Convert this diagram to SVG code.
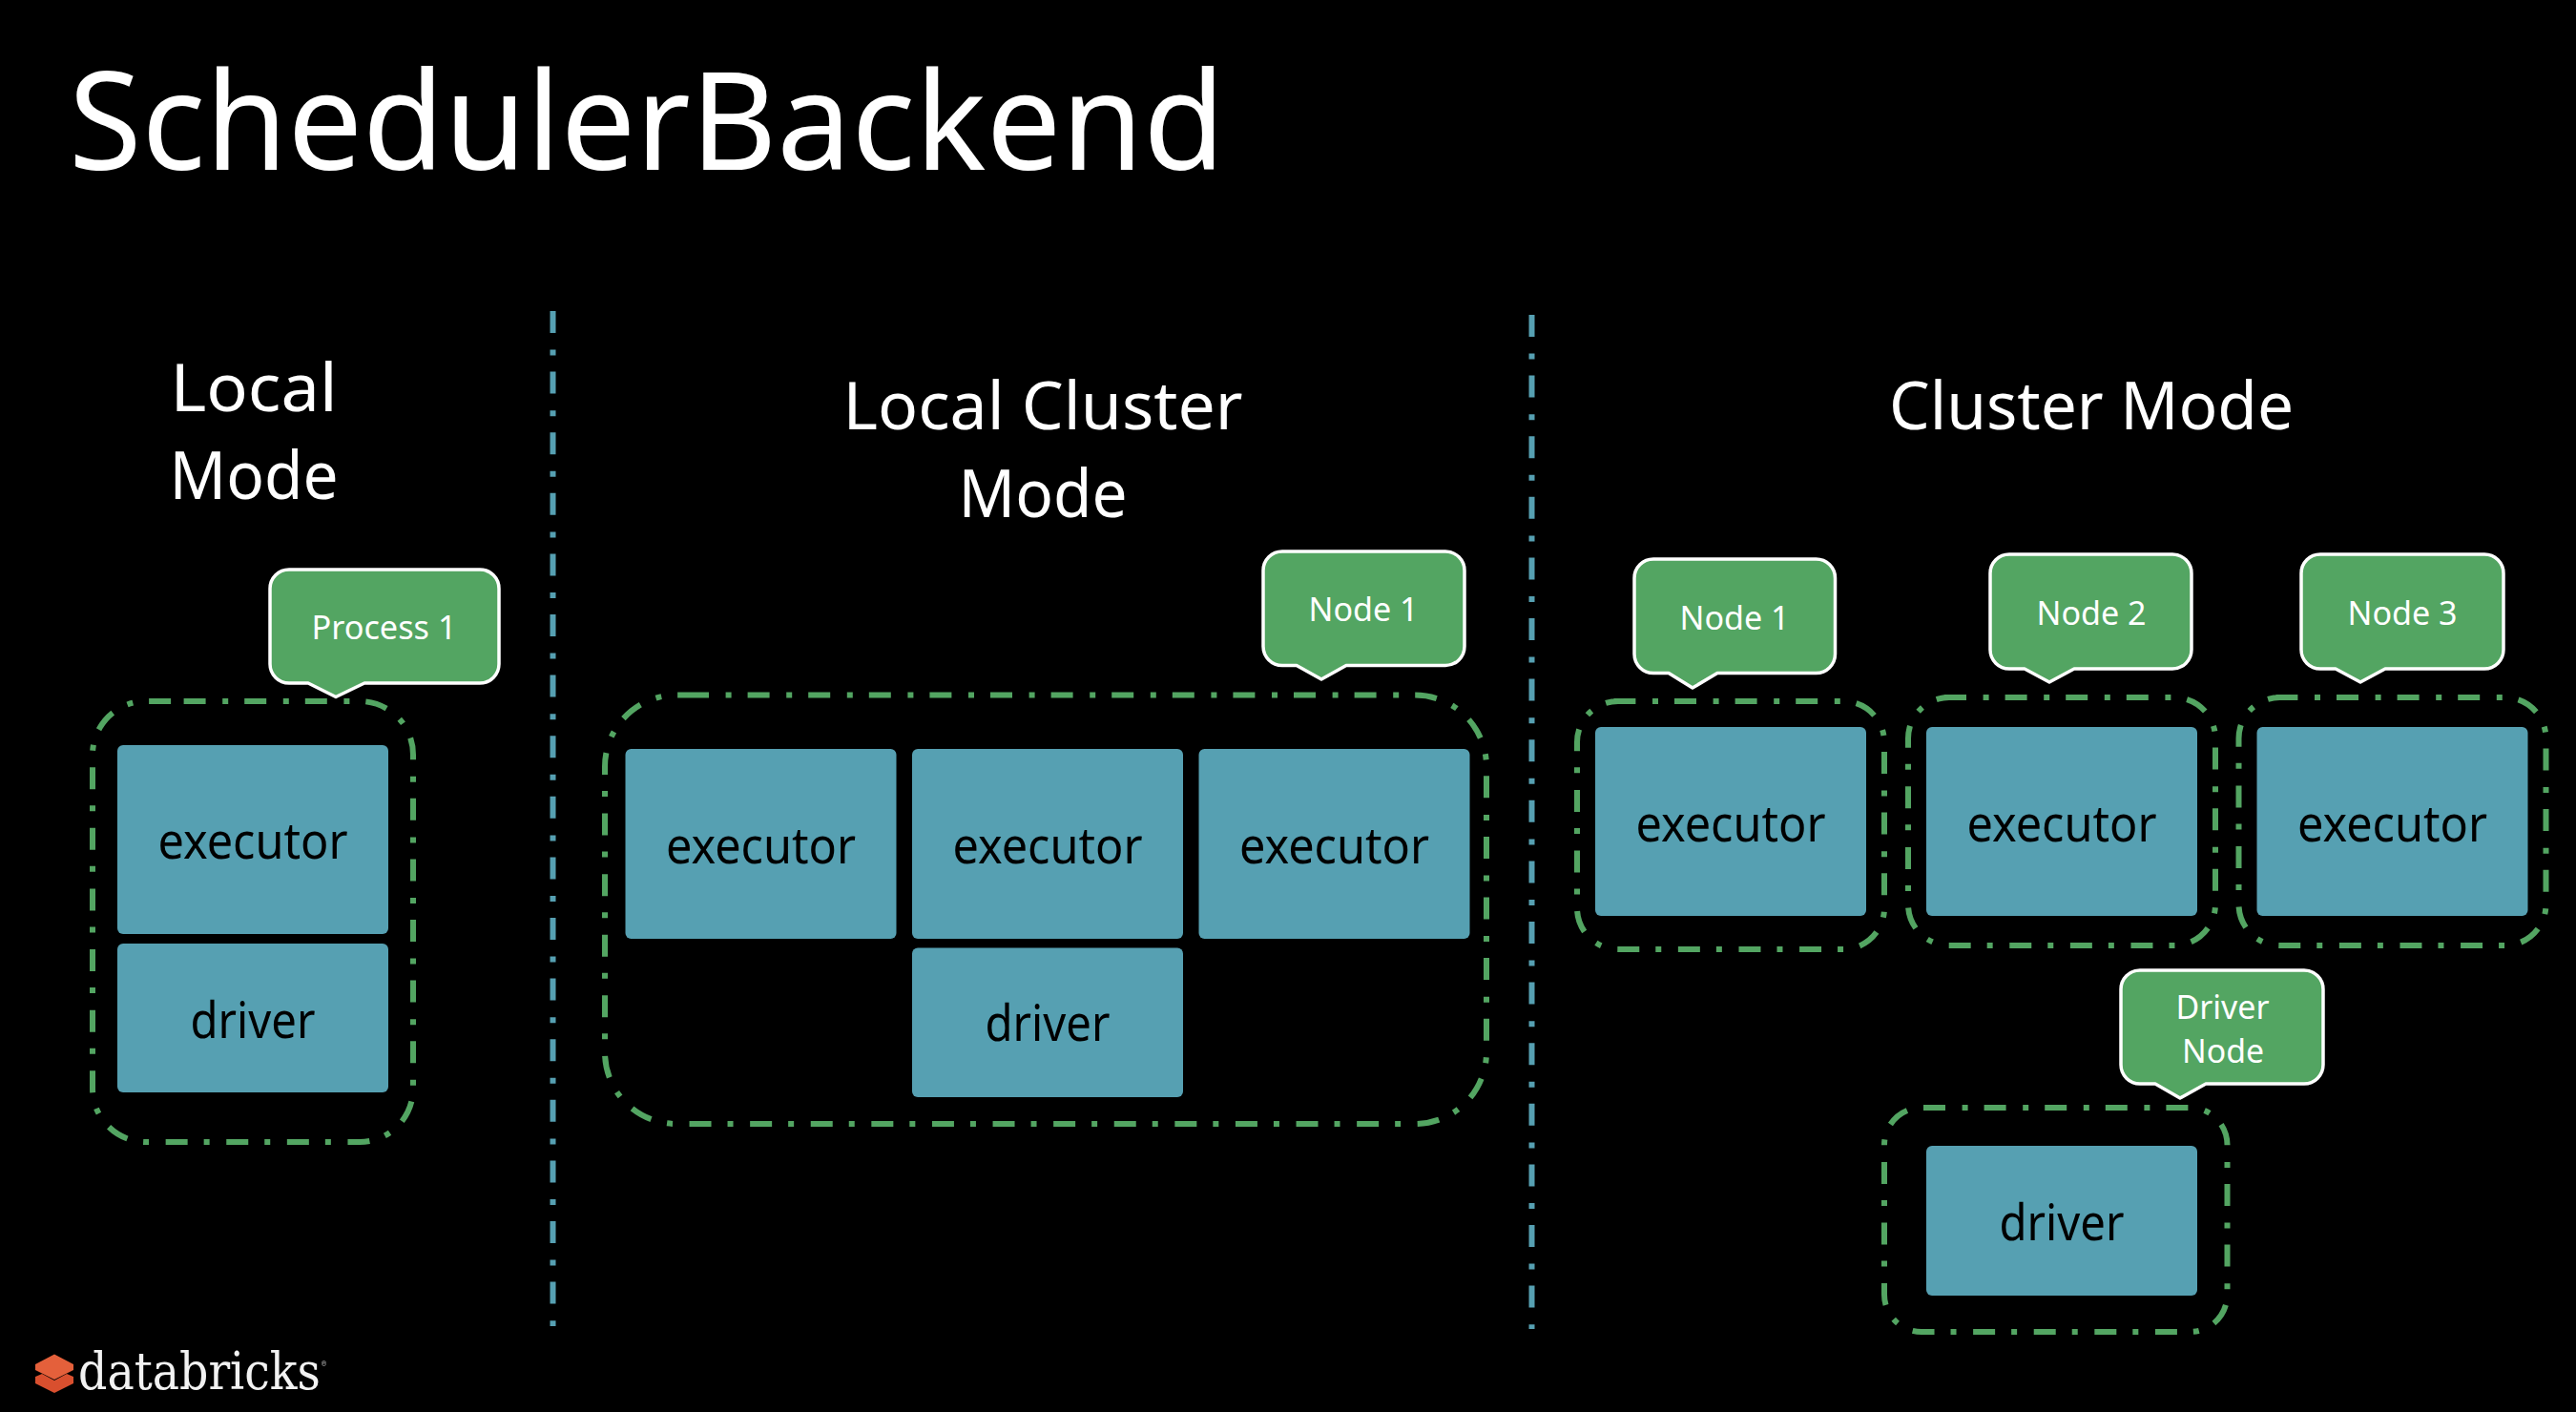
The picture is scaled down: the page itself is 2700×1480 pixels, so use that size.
<svg xmlns="http://www.w3.org/2000/svg" width="2700" height="1480" viewBox="0 0 2700 1480">
<defs>
<style>
text{font-family:"Noto Sans","Open Sans","Liberation Sans",sans-serif;text-anchor:middle}
.title{font-size:143px;fill:#fff;text-anchor:start}
.head{font-size:69px;fill:#fff}
.box{fill:#56a0b2}
.lbl{font-size:53px;fill:#000}
.call{fill:#53a562;stroke:#fff;stroke-width:3.5;stroke-linejoin:round}
.clbl{font-size:34px;fill:#fff}
.zone{fill:none;stroke:#53a562;stroke-width:6;stroke-dasharray:23 17.6 6 17}
.div{fill:none;stroke:#56a0b2;stroke-width:6;stroke-dasharray:23 17.6 6 17}
.brand{font-family:"DejaVu Serif","Liberation Serif",serif;font-size:54px;fill:#f2f2f2;text-anchor:start}
.reg{font-size:8px;fill:#ccc}
</style>
<filter id="soft" x="-5%" y="-20%" width="110%" height="140%"><feGaussianBlur stdDeviation="0.6"/></filter>
</defs>
<rect width="2700" height="1480" fill="#000"/>
<text id="title" class="title" x="72" y="178" textLength="1212" lengthAdjust="spacingAndGlyphs">SchedulerBackend</text>

<g id="dividers">
<path class="div" d="M579.5 326V1390"/>
<path class="div" d="M1605.5 330V1393"/>
</g>

<g id="local-mode">
<text class="head" x="266" y="431" textLength="175" lengthAdjust="spacingAndGlyphs">Local</text>
<text class="head" x="266" y="523" textLength="177" lengthAdjust="spacingAndGlyphs">Mode</text>
<path class="zone" d="M192.6 735H377A56 56 0 0 1 433 791V1141A56 56 0 0 1 377 1197H153A56 56 0 0 1 97 1141V791A56 56 0 0 1 153 735Z"/>
<g id="local-executor"><rect class="box" x="123" y="781" width="284" height="198" rx="6"/><text class="lbl" x="265" y="899.5" textLength="199" lengthAdjust="spacingAndGlyphs">executor</text></g>
<g id="local-driver"><rect class="box" x="123" y="989" width="284" height="156" rx="6"/><text class="lbl" x="265" y="1087.5" textLength="131" lengthAdjust="spacingAndGlyphs">driver</text></g>
<g id="local-process"><path class="call" d="M303 597H503A20 20 0 0 1 523 617V696A20 20 0 0 1 503 716H382L352 730.5L323 716H303A20 20 0 0 1 283 696V617A20 20 0 0 1 303 597Z"/><text class="clbl" x="402.5" y="670" textLength="152" lengthAdjust="spacingAndGlyphs">Process 1</text></g>
</g>

<g id="local-cluster-mode">
<text class="head" x="1093" y="450" textLength="419" lengthAdjust="spacingAndGlyphs">Local Cluster</text>
<text class="head" x="1093" y="541.5" textLength="177" lengthAdjust="spacingAndGlyphs">Mode</text>
<path class="zone" d="M720 728.5H1483A75 75 0 0 1 1558 803.5V1103A75 75 0 0 1 1483 1178H709A75 75 0 0 1 634 1103V803.5A75 75 0 0 1 709 728.5Z"/>
<g id="lc-executor-1"><rect class="box" x="655.5" y="785" width="284" height="199" rx="6"/><text class="lbl" x="797.5" y="905" textLength="199" lengthAdjust="spacingAndGlyphs">executor</text></g>
<g id="lc-executor-2"><rect class="box" x="956" y="785" width="284" height="199" rx="6"/><text class="lbl" x="1098" y="905" textLength="199" lengthAdjust="spacingAndGlyphs">executor</text></g>
<g id="lc-executor-3"><rect class="box" x="1256.5" y="785" width="284" height="199" rx="6"/><text class="lbl" x="1398.5" y="905" textLength="199" lengthAdjust="spacingAndGlyphs">executor</text></g>
<g id="lc-driver"><rect class="box" x="956" y="993.5" width="284" height="156.5" rx="6"/><text class="lbl" x="1098" y="1091" textLength="131" lengthAdjust="spacingAndGlyphs">driver</text></g>
<g id="lc-node"><path class="call" d="M1344 578H1515A20 20 0 0 1 1535 598V677.5A20 20 0 0 1 1515 697.5H1411L1385 712L1359 697.5H1344A20 20 0 0 1 1324 677.5V598A20 20 0 0 1 1344 578Z"/><text class="clbl" x="1429" y="651" textLength="115" lengthAdjust="spacingAndGlyphs">Node 1</text></g>
</g>

<g id="cluster-mode">
<text class="head" x="2192" y="450" textLength="424" lengthAdjust="spacingAndGlyphs">Cluster Mode</text>
<path class="zone" d="M1691.4 735H1932A43 43 0 0 1 1975 778V952A43 43 0 0 1 1932 995H1696A43 43 0 0 1 1653 952V778A43 43 0 0 1 1696 735Z"/>
<g id="c-executor-1"><rect class="box" x="1672" y="762" width="284" height="198" rx="6"/><text class="lbl" x="1814" y="882" textLength="199" lengthAdjust="spacingAndGlyphs">executor</text></g>
<g id="c-node-1"><path class="call" d="M1733 586H1903.5A20 20 0 0 1 1923.5 606V685.5A20 20 0 0 1 1903.5 705.5H1800L1774 721L1749 705.5H1733A20 20 0 0 1 1713 685.5V606A20 20 0 0 1 1733 586Z"/><text class="clbl" x="1818" y="660" textLength="115" lengthAdjust="spacingAndGlyphs">Node 1</text></g>
<path class="zone" d="M2038 731H2279A43 43 0 0 1 2322 774V948A43 43 0 0 1 2279 991H2043A43 43 0 0 1 2000 948V774A43 43 0 0 1 2043 731Z"/>
<g id="c-executor-2"><rect class="box" x="2019" y="762" width="284" height="198" rx="6"/><text class="lbl" x="2161" y="882" textLength="199" lengthAdjust="spacingAndGlyphs">executor</text></g>
<g id="c-node-2"><path class="call" d="M2106 581H2277A20 20 0 0 1 2297 601V681A20 20 0 0 1 2277 701H2174L2148 715L2122 701H2106A20 20 0 0 1 2086 681V601A20 20 0 0 1 2106 581Z"/><text class="clbl" x="2192" y="654.5" textLength="115" lengthAdjust="spacingAndGlyphs">Node 2</text></g>
<path class="zone" d="M2385.4 731H2625.5A43 43 0 0 1 2668.5 774V948A43 43 0 0 1 2625.5 991H2389.5A43 43 0 0 1 2346.5 948V774A43 43 0 0 1 2389.5 731Z"/>
<g id="c-executor-3"><rect class="box" x="2365.5" y="762" width="284" height="198" rx="6"/><text class="lbl" x="2507.5" y="882" textLength="199" lengthAdjust="spacingAndGlyphs">executor</text></g>
<g id="c-node-3"><path class="call" d="M2432 581H2604A20 20 0 0 1 2624 601V681A20 20 0 0 1 2604 701H2500L2474 715L2448 701H2432A20 20 0 0 1 2412 681V601A20 20 0 0 1 2432 581Z"/><text class="clbl" x="2518" y="654.5" textLength="115" lengthAdjust="spacingAndGlyphs">Node 3</text></g>
<path class="zone" d="M2016 1161H2295.5A39 39 0 0 1 2334.5 1200V1357A39 39 0 0 1 2295.5 1396H2014A39 39 0 0 1 1975 1357V1200A39 39 0 0 1 2014 1161Z"/>
<g id="c-driver"><rect class="box" x="2019" y="1201" width="284" height="157" rx="6"/><text class="lbl" x="2161" y="1300" textLength="131" lengthAdjust="spacingAndGlyphs">driver</text></g>
<g id="c-driver-node"><path class="call" d="M2243 1017H2415A20 20 0 0 1 2435 1037V1116A20 20 0 0 1 2415 1136H2312L2285 1151L2259 1136H2243A20 20 0 0 1 2223 1116V1037A20 20 0 0 1 2243 1017Z"/><text class="clbl" x="2329.5" y="1068" textLength="98" lengthAdjust="spacingAndGlyphs">Driver</text><text class="clbl" x="2330" y="1114" textLength="86" lengthAdjust="spacingAndGlyphs">Node</text></g>
</g>

<g id="logo" filter="url(#soft)">
<polygon points="37,1443 44,1440 57,1447 70,1440 77,1443 77,1450 57,1460 37,1450" fill="#d9502e"/>
<polygon points="37,1430 57,1419.5 77,1430 77,1436 57,1446 37,1436" fill="#e4603a"/>
<text class="brand" x="82" y="1456" textLength="261" lengthAdjust="spacingAndGlyphs">databricks<tspan class="reg" dy="-24">®</tspan></text>
</g>
</svg>
